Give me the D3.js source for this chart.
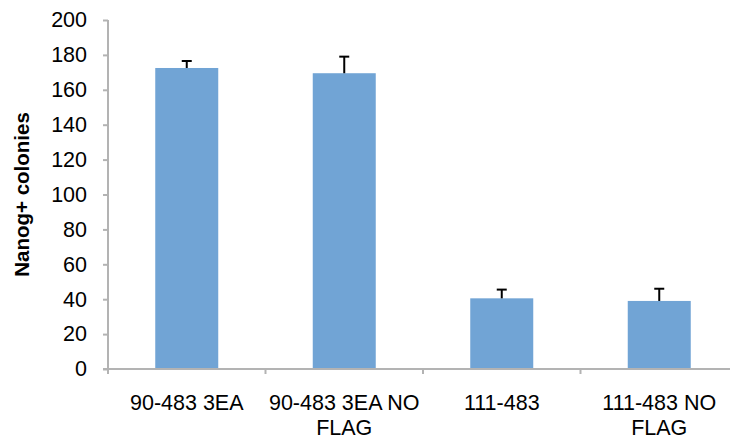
<!DOCTYPE html>
<html>
<head>
<meta charset="utf-8">
<script src="https://cdn.jsdelivr.net/npm/d3@7"></script>
<style>
  html, body { margin: 0; padding: 0; background: #fff; }
  svg { display: block; }
  text { font-family: "Liberation Sans", Arial, Helvetica, sans-serif; fill: #000; }
</style>
</head>
<body>
<svg id="chart" width="730" height="442"></svg>
<script>
// Colony counts per construct, with error bars
const categories = ["90-483 3EA", "90-483 3EA NO FLAG", "111-483", "111-483 NO FLAG"];
const values = [172.5, 169.5, 40.5, 39];
const errors = [4, 9.5, 5, 7];
const yTicks = [0, 20, 40, 60, 80, 100, 120, 140, 160, 180, 200];
const yTitle = "Nanog+ colonies";

(function () {
  const svg = d3.select("#chart");
  const axisColor = "#b3b3b3";
  const barColor = "#71a4d5";
  const labelSize = 21.5;
  const titleSize = 20.5;

  const plotLeft = 108, plotRight = 738, plotTop = 20, plotBottom = 369;

  const x = d3.scaleBand().domain(categories).range([plotLeft, plotRight]).paddingInner(0.6).paddingOuter(0.3);
  const xCat = d3.scaleBand().domain(categories).range([plotLeft, plotRight]).padding(0);
  const y = d3.scaleLinear().domain([0, 200]).range([plotBottom, plotTop]);

  // Bars
  svg.append("g").selectAll("rect").data(categories).join("rect")
    .attr("x", d => x(d))
    .attr("width", x.bandwidth())
    .attr("y", (d, i) => y(values[i]))
    .attr("height", (d, i) => y(0) - y(values[i]))
    .attr("fill", barColor);

  // Error bars (upper only)
  const eb = svg.append("g").attr("stroke", "#000").attr("stroke-width", 2);
  categories.forEach((c, i) => {
    const cx = x(c) + x.bandwidth() / 2;
    eb.append("line").attr("x1", cx).attr("x2", cx)
      .attr("y1", y(values[i])).attr("y2", y(values[i] + errors[i]));
    eb.append("line").attr("x1", cx - 5).attr("x2", cx + 5)
      .attr("y1", y(values[i] + errors[i])).attr("y2", y(values[i] + errors[i]));
  });

  // Y axis
  const yAxis = svg.append("g").attr("transform", `translate(${plotLeft},0)`)
    .call(d3.axisLeft(y).tickValues(yTicks).tickSize(5).tickPadding(16).tickSizeOuter(0));
  yAxis.select(".domain").attr("stroke", axisColor).attr("stroke-width", 2)
    .attr("d", `M0,${plotTop}V${plotBottom + 5}`);
  yAxis.selectAll(".tick line").attr("stroke", axisColor).attr("stroke-width", 2);
  yAxis.selectAll(".tick text").attr("font-size", labelSize)
    .attr("font-family", "Liberation Sans, Arial, sans-serif").attr("fill", "#000");

  // X axis with ticks at category boundaries
  const xg = svg.append("g");
  xg.append("line").attr("x1", plotLeft - 5).attr("x2", plotRight)
    .attr("y1", plotBottom).attr("y2", plotBottom)
    .attr("stroke", axisColor).attr("stroke-width", 2);
  xg.selectAll("line.bound").data(categories.concat([null])).join("line")
    .attr("class", "bound")
    .attr("x1", (d, i) => plotLeft + i * xCat.step()).attr("x2", (d, i) => plotLeft + i * xCat.step())
    .attr("y1", plotBottom).attr("y2", plotBottom + 5)
    .attr("stroke", axisColor).attr("stroke-width", 2);

  // Category labels, wrapped to the band width
  const maxW = xCat.step() - 4;
  categories.forEach(c => {
    const cx = xCat(c) + xCat.bandwidth() / 2;
    const t = xg.append("text").attr("text-anchor", "middle").attr("font-size", labelSize);
    const words = c.split(" ");
    const lines = [];
    let cur = [];
    words.forEach(w => {
      t.text(cur.concat([w]).join(" "));
      if (t.node().getComputedTextLength() > maxW && cur.length) {
        lines.push(cur.join(" "));
        cur = [w];
      } else cur.push(w);
    });
    lines.push(cur.join(" "));
    t.text(null);
    lines.forEach((ln, k) => {
      t.append("tspan").attr("x", cx).attr("y", plotBottom + 41 + k * 25).text(ln);
    });
  });

  // Y axis title
  svg.append("text")
    .attr("transform", `translate(29,${(plotTop + plotBottom) / 2}) rotate(-90)`)
    .attr("text-anchor", "middle")
    .attr("font-size", titleSize)
    .attr("font-weight", "bold")
    .text(yTitle);
})();
</script>
</body>
</html>
